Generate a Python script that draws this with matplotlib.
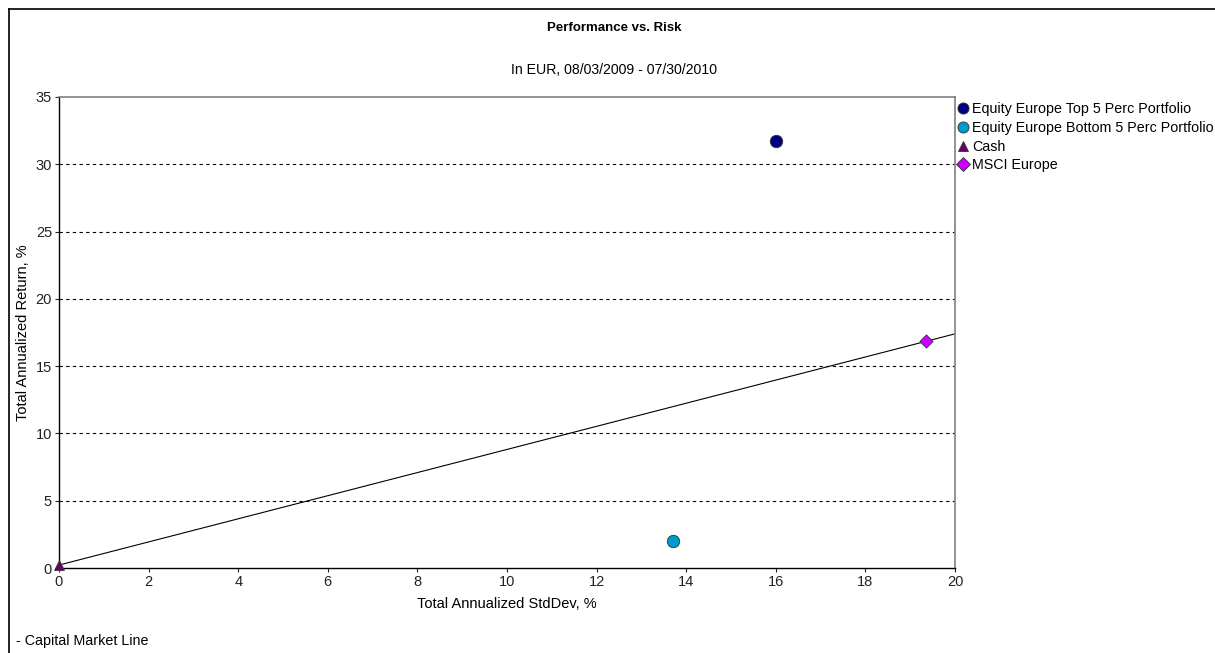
"""
Performance vs. Risk scatter with Capital Market Line
"""
import matplotlib.pyplot as plt
from matplotlib.lines import Line2D

plt.rcParams['font.family'] = ['Liberation Sans', 'DejaVu Sans']

# Data
names = ['Equity Europe Top 5 Perc Portfolio',
         'Equity Europe Bottom 5 Perc Portfolio',
         'Cash',
         'MSCI Europe']
risk = [16.0, 13.7, 0.0, 19.35]
ret = [31.7, 2.0, 0.2, 16.85]
colors = ['#000080', '#0099CC', '#660066', '#CC00FF']
markers = ['o', 'o', '^', 'D']
sizes = [80, 80, 50, 45]

cml_x = [0, 20]
cml_y = [0.22, 17.4]

fig = plt.figure(figsize=(12.15, 6.53), dpi=100, facecolor='white')

# outer frame (top and left only)
fig.add_artist(Line2D([9 / 1215, 1.0], [1 - 9 / 653, 1 - 9 / 653],
                      transform=fig.transFigure, color='black', lw=1.2))
fig.add_artist(Line2D([9 / 1215, 9 / 1215], [0, 1 - 9 / 653],
                      transform=fig.transFigure, color='black', lw=1.2))

ax = fig.add_axes([59 / 1215, 85 / 653, 896 / 1215, 471 / 653])
ax.set_xlim(0, 20)
ax.set_ylim(0, 35)
ax.set_xticks(range(0, 21, 2))
ax.set_yticks(range(0, 36, 5))
ax.tick_params(labelsize=10.5, length=3, width=0.8, pad=2, colors='#222222')

for side in ['top', 'right']:
    ax.spines[side].set_color('#808080')
    ax.spines[side].set_linewidth(1.2)
for side in ['left', 'bottom']:
    ax.spines[side].set_color('black')
    ax.spines[side].set_linewidth(1.0)

# horizontal gridlines
for y in range(5, 35, 5):
    ax.axhline(y, color='black', lw=0.8, ls=(0, (3, 3)), zorder=1)

# capital market line
ax.plot(cml_x, cml_y, color='black', lw=0.8, zorder=2, clip_on=False)

handles = []
for n, x, y, c, m, s in zip(names, risk, ret, colors, markers, sizes):
    ax.scatter(x, y, s=s, c=c, marker=m, edgecolors='#333333',
               linewidths=0.6, zorder=3, clip_on=False)
    handles.append(Line2D([], [], ls='none', marker=m, color=c,
                          markeredgecolor='#333333', markeredgewidth=0.6,
                          markersize=8 if m == 'o' else 7, label=n))

ax.set_xlabel('Total Annualized StdDev, %', fontsize=10.5, labelpad=6)
ax.set_ylabel('Total Annualized Return, %', fontsize=10.5, labelpad=4)

ax.legend(handles=handles, loc='upper left', bbox_to_anchor=(1.0, 0.995),
          frameon=False, fontsize=10.3, handlelength=0.7, handletextpad=0.3,
          labelspacing=0.33, borderaxespad=0.1, borderpad=0.1)

fig.text(614 / 1215, 1 - 28 / 653, 'Performance vs. Risk', ha='center',
         va='center', fontsize=9.5, fontweight='bold')
fig.text(614 / 1215, 1 - 70 / 653, 'In EUR, 08/03/2009 - 07/30/2010',
         ha='center', va='center', fontsize=10.2)
fig.text(16 / 1215, 1 - 641 / 653, '- Capital Market Line', ha='left',
         va='center', fontsize=10.3)

fig.savefig('out.png', dpi=100, facecolor='white')
plt.close()
